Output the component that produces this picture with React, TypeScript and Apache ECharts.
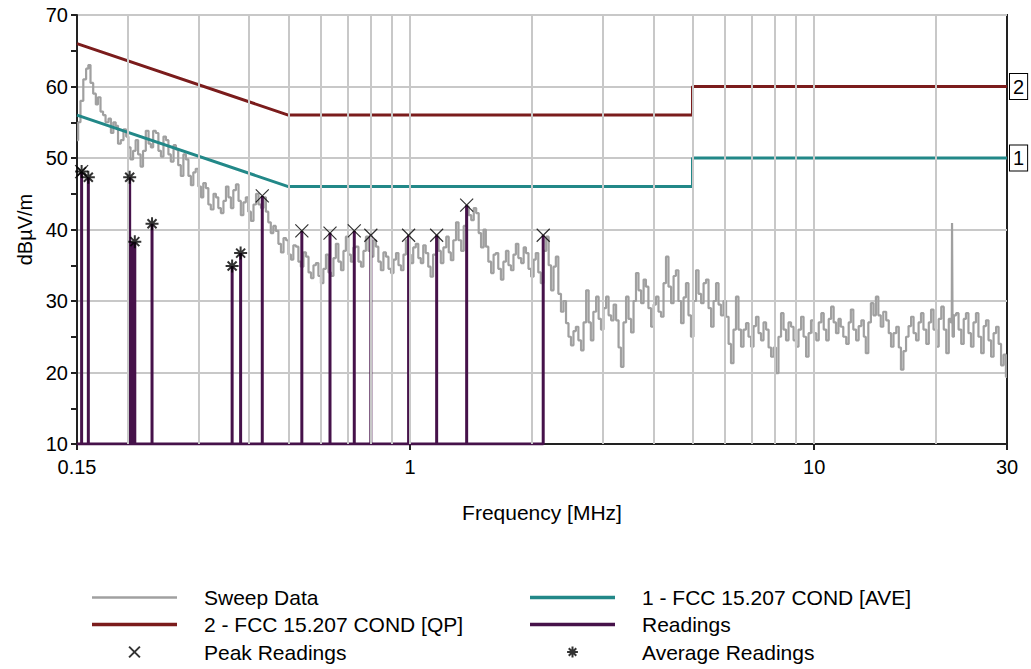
import React, { useEffect, useRef } from "react";
import * as echarts from "echarts";

// ---- Data ----
const sweepFreq = [
  0.15, 0.152, 0.154, 0.157, 0.159, 0.161, 0.163, 0.166, 0.168, 0.17,
  0.173, 0.175, 0.178, 0.181, 0.183, 0.186, 0.188, 0.191, 0.194, 0.197,
  0.2, 0.202, 0.205, 0.208, 0.211, 0.214, 0.217, 0.22, 0.224, 0.227,
  0.23, 0.233, 0.237, 0.24, 0.244, 0.247, 0.251, 0.254, 0.258, 0.262,
  0.265, 0.269, 0.273, 0.277, 0.281, 0.285, 0.289, 0.293, 0.297, 0.302,
  0.306, 0.31, 0.315, 0.319, 0.324, 0.329, 0.333, 0.338, 0.343, 0.348,
  0.353, 0.358, 0.363, 0.368, 0.374, 0.379, 0.384, 0.39, 0.395, 0.401,
  0.407, 0.413, 0.419, 0.425, 0.431, 0.437, 0.443, 0.449, 0.456, 0.462,
  0.469, 0.476, 0.483, 0.49, 0.497, 0.504, 0.511, 0.518, 0.526, 0.533,
  0.541, 0.549, 0.557, 0.565, 0.573, 0.581, 0.589, 0.598, 0.606, 0.615,
  0.624, 0.633, 0.642, 0.651, 0.66, 0.67, 0.68, 0.689, 0.699, 0.709,
  0.719, 0.73, 0.74, 0.751, 0.762, 0.772, 0.784, 0.795, 0.806, 0.818,
  0.829, 0.841, 0.853, 0.866, 0.878, 0.891, 0.904, 0.917, 0.93, 0.943,
  0.957, 0.97, 0.984, 0.998, 1.01, 1.027, 1.04, 1.057, 1.07, 1.087,
  1.1, 1.119, 1.13, 1.151, 1.17, 1.184, 1.2, 1.219, 1.24, 1.254,
  1.27, 1.29, 1.31, 1.327, 1.35, 1.366, 1.39, 1.405, 1.43, 1.446,
  1.47, 1.488, 1.51, 1.531, 1.55, 1.575, 1.6, 1.62, 1.64, 1.667,
  1.69, 1.715, 1.74, 1.765, 1.79, 1.816, 1.84, 1.868, 1.9, 1.922,
  1.95, 1.978, 2.01, 2.035, 2.06, 2.094, 2.12, 2.155, 2.19, 2.217,
  2.25, 2.281, 2.31, 2.347, 2.38, 2.415, 2.45, 2.484, 2.52, 2.556,
  2.59, 2.63, 2.67, 2.706, 2.75, 2.784, 2.82, 2.865, 2.91, 2.948,
  2.99, 3.033, 3.08, 3.12, 3.17, 3.211, 3.26, 3.303, 3.35, 3.399,
  3.45, 3.497, 3.55, 3.598, 3.65, 3.702, 3.76, 3.809, 3.86, 3.919,
  3.98, 4.033, 4.09, 4.149, 4.21, 4.269, 4.33, 4.392, 4.46, 4.519,
  4.58, 4.65, 4.72, 4.784, 4.85, 4.923, 4.99, 5.065, 5.14, 5.211,
  5.29, 5.362, 5.44, 5.517, 5.6, 5.676, 5.76, 5.84, 5.92, 6.009,
  6.1, 6.183, 6.27, 6.362, 6.45, 6.546, 6.64, 6.735, 6.83, 6.929,
  7.03, 7.13, 7.23, 7.336, 7.44, 7.548, 7.66, 7.766, 7.88, 7.99,
  8.1, 8.221, 8.34, 8.459, 8.58, 8.703, 8.83, 8.955, 9.08, 9.214,
  9.35, 9.48, 9.62, 9.754, 9.89, 10.04, 10.2, 10.33, 10.5, 10.62,
  10.8, 10.93, 11.1, 11.25, 11.4, 11.57, 11.7, 11.91, 12.1, 12.25,
  12.4, 12.6, 12.8, 12.97, 13.2, 13.34, 13.5, 13.73, 13.9, 14.13,
  14.3, 14.53, 14.7, 14.95, 15.2, 15.39, 15.6, 15.83, 16.1, 16.29,
  16.5, 16.76, 17.0, 17.24, 17.5, 17.74, 18.0, 18.26, 18.5, 18.78,
  19.1, 19.33, 19.6, 19.88, 20.2, 20.46, 20.8, 21.05, 21.4, 21.66,
  21.9, 21.97, 22.04, 22.3, 22.6, 22.93, 23.3, 23.59, 23.9, 24.27,
  24.6, 24.97, 25.3, 25.69, 26.1, 26.44, 26.8, 27.2, 27.6, 27.99,
  28.4, 28.8, 29.2, 29.63, 30,
];
const sweepLevel = [
  52.5, 55, 58, 61, 62.5, 63, 60.5, 59, 57.5, 58.5,
  56.5, 56, 55, 55.5, 53.5, 55, 54.5, 52, 52.5, 54,
  53, 51.5, 49.8, 51, 52.5, 50.5, 48.8, 51, 53.8, 52,
  51.5, 53.8, 53.5, 51, 50.2, 53, 52.5, 50.5, 49.5, 51.8,
  51.2, 49, 47.5, 50.5, 49.8, 47.5, 46.2, 48, 48.5, 46,
  44.5, 46.5, 45.8, 43.5, 42.8, 45, 44.5, 43, 42.3, 44,
  46, 44.5, 43, 45.5, 46.3, 44, 42, 43.8, 44.5, 42.5,
  41.2, 43.5, 45, 43.5, 43, 44.5, 42.5, 41, 39.5, 40.5,
  39.8, 38, 36.8, 38.8, 38.5, 36.5, 35.8, 37.8, 37.6, 35.5,
  34.8, 36.8, 36.2, 34, 33.2, 35, 35.3, 33.5, 32.5, 34.5,
  36.5, 34, 33.5, 36, 38, 35.5, 34.3, 37, 39, 36.5,
  35.5, 37.5, 37.6, 35.5, 34.8, 37, 39, 37, 36.2, 38.5,
  37.6, 35.5, 34.3, 36.8, 36.2, 34.5, 33.9, 35.8, 36.7, 35,
  34.3, 36.5, 38.5, 36.5, 35.3, 37.5, 38, 36, 35.3, 37.8,
  36.7, 34.8, 33.4, 36.5, 39, 37, 35.3, 37.5, 39, 36.8,
  35.7, 38.5, 41, 38.5, 37, 40.5, 43.2, 42, 41.3, 43,
  42.3, 39.5, 37.5, 40, 37.6, 35.5, 33.9, 36.5, 36.7, 34.5,
  33, 35.5, 37, 35, 34.3, 36.5, 38, 36, 35.3, 37.5,
  36.7, 34.5, 33.4, 35.8, 36.7, 34, 32.5, 37, 39, 35,
  31.5, 34.8, 36.2, 31, 28.5, 30, 26.9, 25, 23.8, 25.8,
  26.4, 24.5, 23.1, 27, 31.5, 27, 24.5, 28.5, 30.6, 27.5,
  26, 29, 30.6, 28, 27.3, 29.5, 27.3, 23.5, 20.8, 27,
  30.6, 27.5, 25.6, 30, 33.9, 31.5, 29.7, 33, 32, 29,
  26.4, 29.5, 30.6, 28.5, 27.8, 32.5, 36.2, 32, 29.7, 33.5,
  34.3, 30, 26.9, 30.5, 32.5, 28, 25, 30, 34.3, 31,
  29.7, 32.5, 33, 29, 26.4, 30, 32.5, 29.5, 28, 30,
  27.8, 24, 21.3, 26, 30.6, 26, 23.6, 26, 26.9, 25,
  23.6, 26.5, 27.8, 25.5, 24.5, 27, 26, 23.5, 22.2, 23.5,
  19.9, 25, 28.3, 26, 24.5, 27, 26.4, 24.5, 23.6, 26,
  27.8, 25, 22.2, 25.5, 27.3, 25.5, 24.5, 27, 28.3, 26,
  24.5, 27.5, 29.2, 27, 25.5, 27.5, 26.4, 25, 24, 27,
  28.8, 26, 24.5, 26.5, 27.3, 25, 22.7, 27, 29.7, 28,
  30.6, 28, 26.4, 28.5, 27.3, 25.5, 23.6, 25.5, 26.4, 23.5,
  20.4, 23, 25, 26.5, 27.8, 25.5, 24.5, 27, 28.3, 26,
  24, 27, 28.8, 26, 23.6, 27.5, 29.2, 26, 22.7, 27.5,
  27, 40.9, 25, 28, 28.3, 26, 24, 27.5, 28.3, 25.5,
  23.6, 27, 28.3, 25, 22.7, 26.5, 27.3, 24.5, 22.2, 25.5,
  26.4, 24, 21, 22.5, 19.4,
];

const qpFreq = [0.15, 0.5, 5, 5, 30];
const qpLevel = [66, 56, 56, 60, 60];
const aveFreq = [0.15, 0.5, 5, 5, 30];
const aveLevel = [56, 46, 46, 50, 50];

const readFreq = [0.154, 0.16, 0.2025, 0.2055, 0.2085, 0.23, 0.363, 0.381, 0.431, 0.54, 0.634, 0.728, 0.8, 0.992, 1.164, 1.381, 2.136];
const readLevel = [48.1, 47.3, 47.3, 38.3, 38.3, 40.8, 34.9, 36.7, 44.7, 39.8, 39.5, 39.8, 39.2, 39.2, 39.2, 43.4, 39.2];

const peakFreq = [0.154, 0.431, 0.54, 0.634, 0.728, 0.8, 0.992, 1.164, 1.381, 2.136];
const peakLevel = [48.1, 44.7, 39.8, 39.5, 39.8, 39.2, 39.2, 39.2, 43.4, 39.2];
const avgFreq = [0.154, 0.16, 0.2025, 0.2085, 0.23, 0.363, 0.381];
const avgLevel = [48.1, 47.3, 47.3, 38.3, 40.8, 34.9, 36.7];

const gridFreqs = [0.2, 0.3, 0.4, 0.5, 0.6, 0.7, 0.8, 0.9, 1, 2, 3, 4, 5, 6, 7, 8, 9, 10, 20];

const xMin = 0.15;
const xMax = 30;
const yMin = 10;
const yMax = 70;

const names = {
  sweep: "Sweep Data",
  ave: "1 - FCC 15.207 COND [AVE]",
  qp: "2 - FCC 15.207 COND [QP]",
  readings: "Readings",
  peak: "Peak Readings",
  avg: "Average Readings",
};

const COLORS = {
  sweep: "#a0a0a0",
  qp: "#7b1c1c",
  ave: "#228888",
  readings: "#46124a",
};

const FONT = "'Liberation Sans', Arial, sans-serif";

const pairs = (xs: number[], ys: number[]) => xs.map((x, i) => [x, ys[i]]);

export default function App() {
  const ref = useRef<HTMLDivElement>(null);

  useEffect(() => {
    if (!ref.current) return;
    const chart = echarts.init(ref.current, undefined, { renderer: "svg" });

    const stems: number[][] = [[xMin, yMin]];
    readFreq.forEach((f, i) => {
      stems.push([f, yMin], [f, readLevel[i]], [f, yMin]);
    });

    const xPath = "path://M0,0 M24,24 M5.5,5.5 L18.5,18.5 M18.5,5.5 L5.5,18.5";
    const starPath = "path://M0,0 M24,24 M12,5.5 L12,18.5 M5.5,12 L18.5,12 M7.5,7.5 L16.5,16.5 M16.5,7.5 L7.5,16.5";
    const bar2 = "path://M0,0 M85,20 M0,8.75 L85,8.75 L85,11.25 L0,11.25 Z";
    const bar3 = "path://M0,0 M85,20 M0,8.25 L85,8.25 L85,11.75 L0,11.75 Z";

    const legendText = {
      fontSize: 21,
      color: "#000",
      fontFamily: FONT,
      lineHeight: 20,
      padding: [0, 0, 0, 22],
    };

    const endLabel = (txt: string) => ({
      show: true,
      formatter: txt,
      distance: 3,
      fontSize: 20,
      fontFamily: FONT,
      color: "#000",
      backgroundColor: "#fff",
      borderColor: "#000",
      borderWidth: 1,
      padding: [3, 3, 2, 3],
    });

    chart.setOption({
      animation: false,
      textStyle: { fontFamily: FONT },
      grid: {
        left: 77,
        right: 24,
        top: 15,
        bottom: 225,
        show: true,
        borderColor: "#222",
        borderWidth: 2,
      },
      legend: [
        {
          orient: "vertical",
          left: 92,
          top: 587,
          padding: 0,
          itemWidth: 85,
          itemHeight: 20,
          itemGap: 6,
          textStyle: legendText,
          data: [
            { name: names.sweep, icon: bar2 },
            { name: names.qp, icon: bar3 },
            { name: names.peak },
          ],
        },
        {
          orient: "vertical",
          left: 530,
          top: 587,
          padding: 0,
          itemWidth: 85,
          itemHeight: 20,
          itemGap: 6,
          textStyle: legendText,
          data: [
            { name: names.ave, icon: bar3 },
            { name: names.readings, icon: bar3 },
            { name: names.avg },
          ],
        },
      ],
      xAxis: {
        type: "log",
        logBase: 10,
        min: xMin,
        max: xMax,
        name: "Frequency [MHz]",
        nameLocation: "middle",
        nameGap: 58,
        nameTextStyle: { fontSize: 21, color: "#000", fontFamily: FONT },
        axisLine: { show: true, lineStyle: { color: "#222", width: 2 } },
        axisTick: { show: true, length: 6, lineStyle: { color: "#222", width: 2 } },
        axisLabel: {
          fontSize: 20,
          color: "#000",
          margin: 13,
          fontFamily: FONT,
          formatter: (v: number) => String(+Number(v).toPrecision(3)),
        },
        splitLine: { show: false },
      },
      yAxis: {
        type: "value",
        min: yMin,
        max: yMax,
        interval: 10,
        name: "dBµV/m",
        nameLocation: "middle",
        nameGap: 42,
        nameTextStyle: { fontSize: 20, color: "#000", fontFamily: FONT },
        axisLine: { show: true, lineStyle: { color: "#222", width: 2 } },
        axisTick: { show: true, length: 6, lineStyle: { color: "#222", width: 2 } },
        minorTick: { show: true, splitNumber: 2, length: 6, lineStyle: { color: "#222", width: 2 } },
        axisLabel: { fontSize: 20, color: "#000", margin: 9, fontFamily: FONT },
        splitLine: { show: true, lineStyle: { color: "#c8c8c8", width: 2 } },
      },
      series: [
        {
          type: "line",
          name: "grid",
          data: [],
          z: 1,
          silent: true,
          markLine: {
            silent: true,
            symbol: ["none", "none"],
            label: { show: false },
            lineStyle: { color: "#c8c8c8", width: 2, type: "solid" },
            data: gridFreqs.map((f) => ({ xAxis: f })),
          },
        },
        {
          type: "line",
          name: names.sweep,
          data: pairs(sweepFreq, sweepLevel),
          symbol: "none",
          step: "middle",
          z: 2,
          lineStyle: { color: COLORS.sweep, width: 2.2 },
          itemStyle: { color: COLORS.sweep },
        },
        {
          type: "line",
          name: names.qp,
          data: pairs(qpFreq, qpLevel),
          symbol: "none",
          z: 3,
          lineStyle: { color: COLORS.qp, width: 3 },
          itemStyle: { color: COLORS.qp },
          endLabel: endLabel("2"),
        },
        {
          type: "line",
          name: names.ave,
          data: pairs(aveFreq, aveLevel),
          symbol: "none",
          z: 3,
          lineStyle: { color: COLORS.ave, width: 3 },
          itemStyle: { color: COLORS.ave },
          endLabel: endLabel("1"),
        },
        {
          type: "line",
          name: names.readings,
          data: stems,
          symbol: "none",
          z: 4,
          lineStyle: { color: COLORS.readings, width: 3 },
          itemStyle: { color: COLORS.readings },
        },
        {
          type: "scatter",
          name: names.peak,
          data: pairs(peakFreq, peakLevel),
          symbol: xPath,
          symbolSize: 24,
          z: 5,
          itemStyle: { color: "#000", borderColor: "#000", borderWidth: 1.2 },
        },
        {
          type: "scatter",
          name: names.avg,
          data: pairs(avgFreq, avgLevel),
          symbol: starPath,
          symbolSize: 24,
          z: 5,
          itemStyle: { color: "#000", borderColor: "#000", borderWidth: 2 },
        },
      ],
    });

    return () => chart.dispose();
  }, []);

  return (
    <div
      ref={ref}
      style={{ position: "fixed", left: 0, top: 0, width: 1031, height: 669, background: "#fff" }}
    />
  );
}
